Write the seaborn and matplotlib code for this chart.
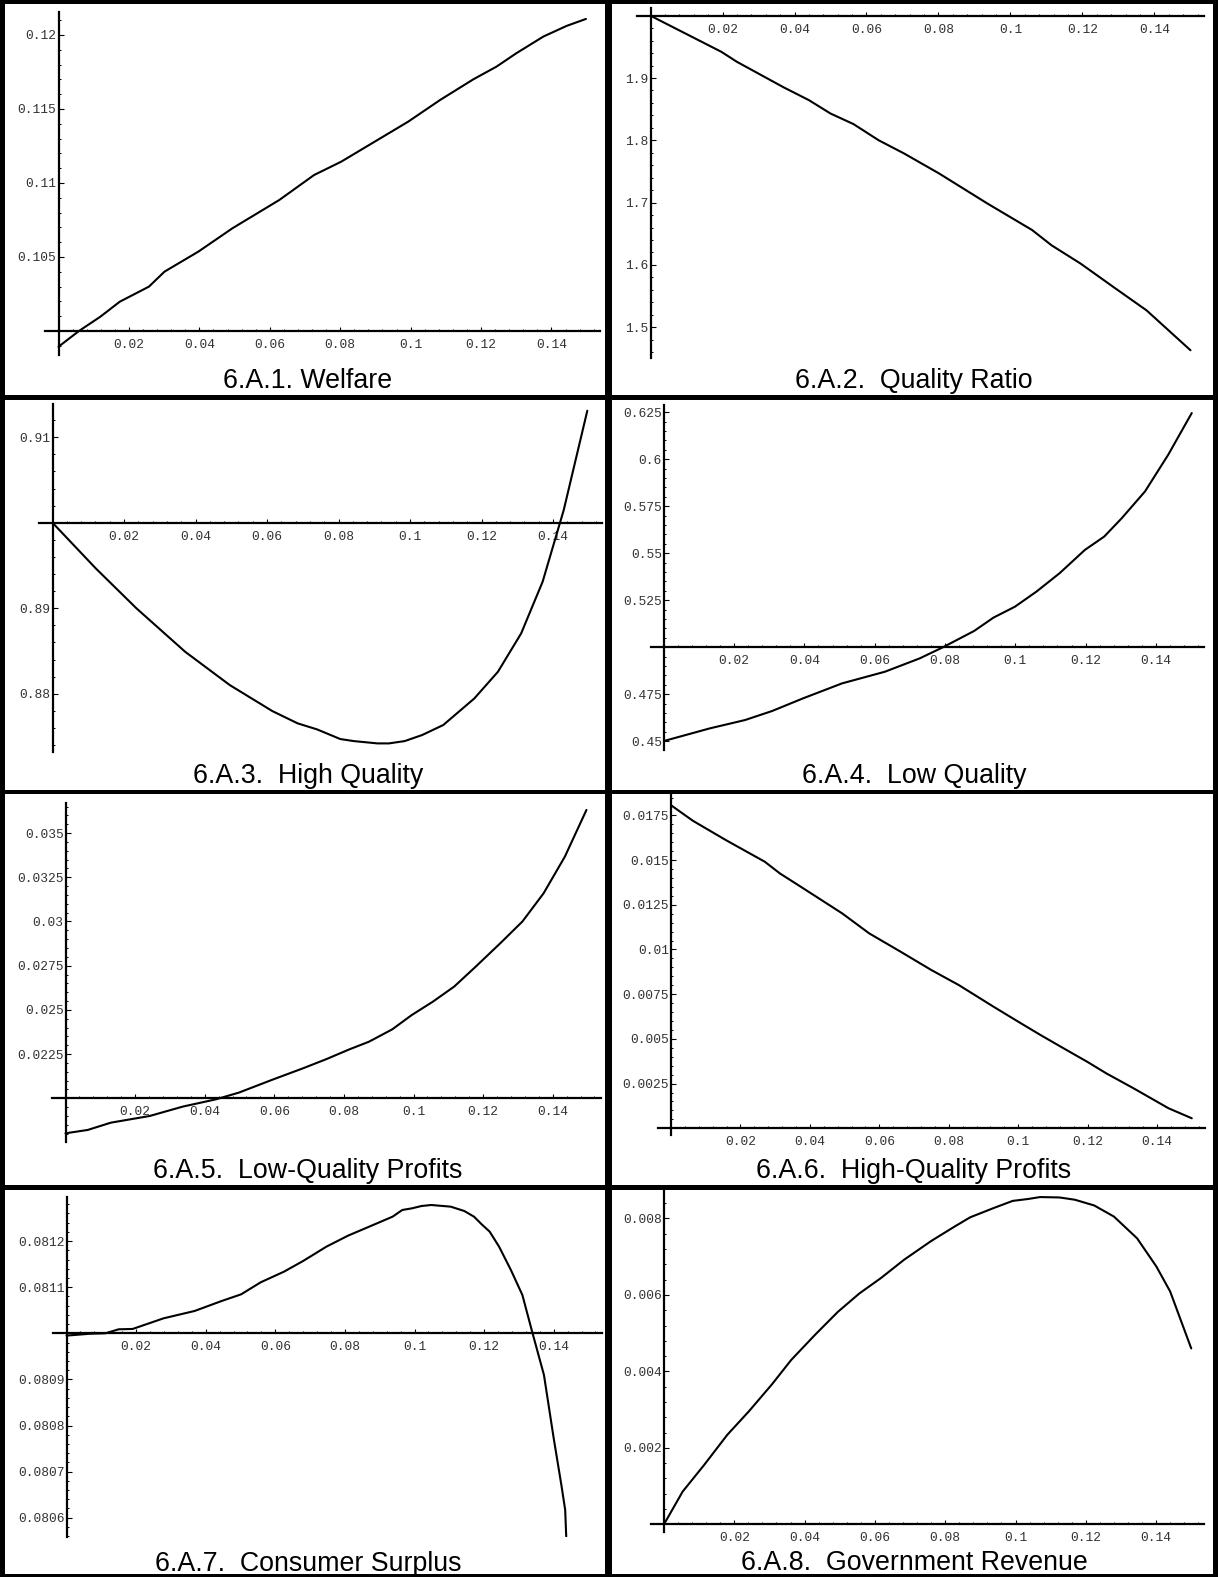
import numpy as np
import pandas as pd
import matplotlib
matplotlib.use("Agg")
import matplotlib.pyplot as plt
import seaborn as sns
from matplotlib.patches import Rectangle
from matplotlib.ticker import MultipleLocator

sns.set_style("white")
plt.rcParams["font.family"] = ["Liberation Sans", "DejaVu Sans"]

# ---------------- data ----------------
x_ticks = [0.02, 0.04, 0.06, 0.08, 0.10, 0.12, 0.14]
x_tick_labels = ["0.02", "0.04", "0.06", "0.08", "0.1", "0.12", "0.14"]

titles = ["6.A.1. Welfare", "6.A.2.  Quality Ratio", "6.A.3.  High Quality",
          "6.A.4.  Low Quality", "6.A.5.  Low-Quality Profits",
          "6.A.6.  High-Quality Profits", "6.A.7.  Consumer Surplus",
          "6.A.8.  Government Revenue"]

welfare_x = [0, 0.0058, 0.0119, 0.0174, 0.0257, 0.0301, 0.0397, 0.0494, 0.0627,
             0.0726, 0.0803, 0.0993, 0.1084, 0.1178, 0.1244, 0.13, 0.1377, 0.1443, 0.1498]
welfare_y = [0.09894, 0.1, 0.10097, 0.10198, 0.103, 0.10401, 0.10536, 0.10694, 0.10885,
             0.11054, 0.11144, 0.11414, 0.11561, 0.117, 0.11786, 0.11876, 0.11989, 0.12061, 0.12108]
welfare_yticks = [0.105, 0.11, 0.115, 0.12]
welfare_ylabels = ["0.105", "0.11", "0.115", "0.12"]

ratio_x = [0, 0.0197, 0.024, 0.037, 0.044, 0.05, 0.0564, 0.0634, 0.0704, 0.0801,
           0.0936, 0.106, 0.1114, 0.1195, 0.1286, 0.1378, 0.15]
ratio_y = [2.0, 1.942, 1.926, 1.885, 1.8645, 1.843, 1.826, 1.800, 1.779, 1.747,
           1.6985, 1.656, 1.6315, 1.602, 1.5645, 1.527, 1.463]
ratio_yticks = [1.5, 1.6, 1.7, 1.8, 1.9]
ratio_ylabels = ["1.5", "1.6", "1.7", "1.8", "1.9"]

highq_x = [0, 0.0121, 0.0235, 0.0371, 0.0496, 0.0615, 0.0686, 0.074, 0.0805, 0.0843,
           0.0909, 0.0941, 0.0985, 0.1034, 0.1093, 0.118, 0.1246, 0.1311, 0.1371, 0.143, 0.1496]
highq_y = [0.9, 0.89466, 0.88998, 0.88491, 0.88101, 0.87797, 0.87653, 0.87583, 0.8747, 0.87446,
           0.87419, 0.87419, 0.87446, 0.87517, 0.87634, 0.87945, 0.88257, 0.88706, 0.8931, 0.90148, 0.9131]
highq_yticks = [0.88, 0.89, 0.91]
highq_ylabels = ["0.88", "0.89", "0.91"]

lowq_x = [0, 0.01315, 0.0231, 0.0308, 0.0397, 0.0507, 0.0629, 0.0728, 0.0794, 0.0883,
          0.0938, 0.0999, 0.106, 0.1126, 0.1198, 0.1253, 0.1303, 0.1369, 0.1435, 0.1502]
lowq_y = [0.45014, 0.4569, 0.4613, 0.4661, 0.4729, 0.4808, 0.4870, 0.4941, 0.5, 0.5087,
          0.5158, 0.5216, 0.5296, 0.5394, 0.5518, 0.5589, 0.5687, 0.5829, 0.6024, 0.6246]
lowq_yticks = [0.45, 0.475, 0.525, 0.55, 0.575, 0.6, 0.625]
lowq_ylabels = ["0.45", "0.475", "0.525", "0.55", "0.575", "0.6", "0.625"]

lprof_x = [0, 0.0064, 0.013, 0.0242, 0.0337, 0.0432, 0.0498, 0.0593, 0.0683, 0.0749, 0.0816,
           0.0872, 0.0939, 0.0995, 0.1056, 0.1117, 0.1179, 0.1251, 0.1313, 0.1374, 0.1435, 0.1497]
lprof_y = [0.01802, 0.01821, 0.01862, 0.019, 0.01953, 0.01994, 0.02032, 0.02104, 0.0217, 0.02221,
           0.02277, 0.0232, 0.0239, 0.02471, 0.02547, 0.02632, 0.02745, 0.0288, 0.03, 0.0316,
           0.03367, 0.03631]
lprof_yticks = [0.0225, 0.025, 0.0275, 0.03, 0.0325, 0.035]
lprof_ylabels = ["0.0225", "0.025", "0.0275", "0.03", "0.0325", "0.035"]

hprof_x = [0, 0.0063, 0.0158, 0.027, 0.0314, 0.0381, 0.0493, 0.0571, 0.0661, 0.075, 0.0829,
           0.0929, 0.1008, 0.1064, 0.1131, 0.1198, 0.1254, 0.1332, 0.1433, 0.15]
hprof_y = [0.01807, 0.0172, 0.01612, 0.01491, 0.01425, 0.01342, 0.01202, 0.0109, 0.00988,
           0.00885, 0.00801, 0.0068, 0.00587, 0.00522, 0.00447, 0.00373, 0.00307, 0.00224,
           0.00112, 0.00056]
hprof_yticks = [0.0025, 0.005, 0.0075, 0.01, 0.0125, 0.015, 0.0175]
hprof_ylabels = ["0.0025", "0.005", "0.0075", "0.01", "0.0125", "0.015", "0.0175"]

cs_x = [0, 0.0067, 0.0112, 0.015, 0.019, 0.0279, 0.0368, 0.0446, 0.0502, 0.0558, 0.0625,
        0.068, 0.0747, 0.0809, 0.0881, 0.0937, 0.0965, 0.0993, 0.102, 0.1048, 0.1104, 0.1143,
        0.1171, 0.1193, 0.1216, 0.1243, 0.1277, 0.131, 0.1338, 0.1372, 0.14, 0.1422, 0.1433, 0.1436]
cs_y = [0.080995, 0.080999, 0.081, 0.0810087, 0.0810094, 0.0810325, 0.0810484, 0.0810701,
        0.0810846, 0.0811106, 0.0811337, 0.0811569, 0.081188, 0.0812118, 0.0812349, 0.081253,
        0.0812675, 0.0812711, 0.0812761, 0.0812783, 0.0812747, 0.0812653, 0.081253, 0.0812364,
        0.0812205, 0.081188, 0.0811373, 0.0810831, 0.0810036, 0.0809096, 0.0807723, 0.0806711,
        0.0806169, 0.080559]
cs_yticks = [0.0806, 0.0807, 0.0808, 0.0809, 0.0811, 0.0812]
cs_ylabels = ["0.0806", "0.0807", "0.0808", "0.0809", "0.0811", "0.0812"]

gov_x = [0, 0.0053, 0.0114, 0.018, 0.0241, 0.0307, 0.0362, 0.0429, 0.0495, 0.0556, 0.0617,
         0.0683, 0.076, 0.0827, 0.0871, 0.0937, 0.0992, 0.1036, 0.107, 0.1125, 0.1169, 0.1224,
         0.128, 0.1346, 0.1401, 0.144, 0.15]
gov_y = [0, 0.000855, 0.00155, 0.00234, 0.00295, 0.00366, 0.0043, 0.00495, 0.00556, 0.00604,
         0.00644, 0.00692, 0.00741, 0.00779, 0.00803, 0.00827, 0.00846, 0.00851, 0.00856,
         0.00855, 0.00849, 0.00834, 0.00805, 0.00748, 0.00674, 0.00609, 0.0046]
gov_yticks = [0.002, 0.004, 0.006, 0.008]
gov_ylabels = ["0.002", "0.004", "0.006", "0.008"]

series = [
    (welfare_x, welfare_y, welfare_yticks, welfare_ylabels, 0.1),
    (ratio_x, ratio_y, ratio_yticks, ratio_ylabels, 2.0),
    (highq_x, highq_y, highq_yticks, highq_ylabels, 0.9),
    (lowq_x, lowq_y, lowq_yticks, lowq_ylabels, 0.5),
    (lprof_x, lprof_y, lprof_yticks, lprof_ylabels, 0.02),
    (hprof_x, hprof_y, hprof_yticks, hprof_ylabels, 0.0),
    (cs_x, cs_y, cs_yticks, cs_ylabels, 0.081),
    (gov_x, gov_y, gov_yticks, gov_ylabels, 0.0),
]

# ---------------- layout (pixels) ----------------
W, H, DPI = 1218, 1577, 100
cell_x = [0, 609]
cell_y = [0, 395, 790, 1185]
layout = [
    dict(x0=58.5, sx=3521, top=11.7, bot=355.0, ylim=(0.09838, 0.12157), minor=0.001, base=388),
    dict(x0=41.5, sx=3600, top=8.3, bot=358.3, ylim=(1.4501, 2.0119), minor=0.02, base=388),
    dict(x0=52.5, sx=3575, top=9.3, bot=356.7, ylim=(0.87322, 0.91385), minor=0.002, base=388),
    dict(x0=54.8, sx=3515, top=10.0, bot=355.0, ylim=(0.44537, 0.62888), minor=0.005, base=388),
    dict(x0=65.5, sx=3480, top=12.7, bot=352.3, ylim=(0.017511, 0.036719), minor=0.0005, base=388),
    dict(x0=62.0, sx=3472, top=5.0, bot=345.0, ylim=(-0.000375, 0.018641), minor=0.0005, base=388),
    dict(x0=66.5, sx=3480, top=11.7, bot=351.7, ylim=(0.0805588, 0.0812963), minor=0.00002, base=386),
    dict(x0=55.0, sx=3515, top=4.0, bot=346.7, ylim=(-0.000194, 0.008771), minor=0.0004, base=385),
]
title_cx = [308, 305, 308, 305, 308, 305, 308, 305]
XLO, XHI = -0.00375, 0.15375
PT = 72.0 / DPI  # points per pixel

fig = plt.figure(figsize=(W / DPI, H / DPI), dpi=DPI)
fig.patch.set_facecolor("white")

mono = ["Liberation Mono", "DejaVu Sans Mono"]

for i, ((xs, ys, yt, yl, ycross), lay) in enumerate(zip(series, layout)):
    col, row = i % 2, i // 2
    cx, cy = cell_x[col], cell_y[row]
    left = cx + lay["x0"] + XLO * lay["sx"]
    width = (XHI - XLO) * lay["sx"]
    top = cy + lay["top"]
    bot = cy + lay["bot"]
    ax = fig.add_axes([left / W, 1 - bot / H, width / W, (bot - top) / H])
    ax.set_facecolor("none")
    df = pd.DataFrame({"x": xs, "y": ys})
    sns.lineplot(data=df, x="x", y="y", ax=ax, color="black", linewidth=1.5,
                 sort=False, estimator=None)
    ax.set_xlim(XLO, XHI)
    ax.set_ylim(*lay["ylim"])
    ax.set_xlabel("")
    ax.set_ylabel("")
    for s in ("top", "right"):
        ax.spines[s].set_visible(False)
    ax.spines["left"].set_position(("data", 0))
    ax.spines["bottom"].set_position(("data", ycross))
    for s in ("left", "bottom"):
        ax.spines[s].set_linewidth(1.6)
        ax.spines[s].set_color("black")
    ax.set_xticks(x_ticks)
    ax.set_xticklabels(x_tick_labels)
    ax.set_yticks(yt)
    ax.set_yticklabels(yl)
    ax.xaxis.set_minor_locator(MultipleLocator(0.004))
    ax.yaxis.set_minor_locator(MultipleLocator(lay["minor"]))
    ax.tick_params(which="both", bottom=True, left=True, top=False, right=False)
    ax.tick_params(which="major", direction="in", length=4.5 * PT, width=0.8,
                   color="black")
    ax.tick_params(which="minor", direction="in", length=2.5 * PT, width=0.7,
                   color="black")
    ax.tick_params(axis="x", which="major", pad=8 * PT)
    ax.tick_params(axis="y", which="major", pad=2 * PT)
    for lab in ax.get_xticklabels() + ax.get_yticklabels():
        lab.set_family(mono)
        lab.set_fontsize(9.3)
        lab.set_color("#333333")
    ax.grid(False)
    fig.text((cx + title_cx[i]) / W, 1 - (cy + lay["base"]) / H, titles[i],
             ha="center", va="baseline", fontsize=19.3, color="black",
             family=["Liberation Sans", "DejaVu Sans"])

# cell borders (pixel rectangles)
def prect(x0, y0, x1, y1):
    fig.patches.append(Rectangle((x0 / W, 1 - y1 / H), (x1 - x0) / W, (y1 - y0) / H,
                                 transform=fig.transFigure, facecolor="black",
                                 edgecolor="none", zorder=10))

for (y0, y1) in [(0, 3.5), (395, 399.5), (790, 794), (1185, 1189.5), (1573.5, 1577)]:
    prect(0, y0, W, y1)
for (x0, x1) in [(0, 5), (605, 612), (1213, 1218)]:
    prect(x0, 0, x1, H)

fig.savefig("out.png", dpi=DPI, facecolor="white")
